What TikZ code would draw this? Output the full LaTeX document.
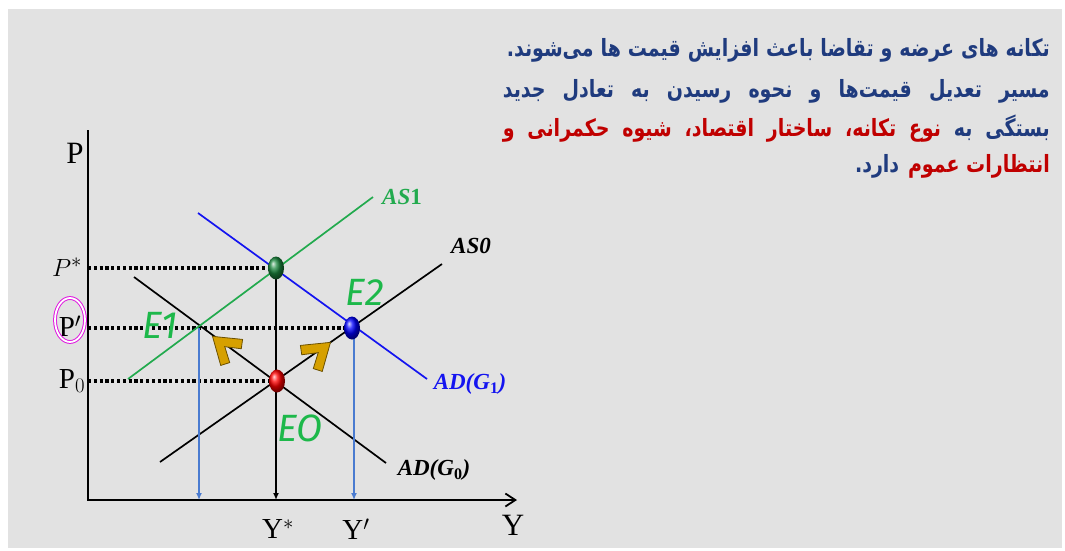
\documentclass[tikz,border=0pt]{standalone}
\usepackage{fontspec}
\setmainfont{Liberation Serif}
\newfontfamily\arabicfont[Script=Arabic]{DejaVu Sans}
\newfontfamily\mainE{Fira Sans}
\TeXXeTstate=1
\usetikzlibrary{arrows.meta}
\usetikzlibrary{shapes.geometric}
\definecolor{palette_gris}{HTML}{E2E2E2}
\definecolor{palette_bleuf}{HTML}{1F3B7E}
\definecolor{palette_rouge}{HTML}{C00000}
\definecolor{palette_vert}{HTML}{22AA4E}
\definecolor{palette_vertE}{HTML}{1DB84A}
\definecolor{palette_bleu}{HTML}{1414F0}
\definecolor{palette_bleuc}{HTML}{4A7BD0}
\definecolor{palette_or}{HTML}{D6A000}
\definecolor{palette_rose}{HTML}{E01CE0}

\tikzset{
  pointille/.style={line width=3.2pt, dash pattern=on 3.2pt off 2.6pt},
  courbe/.style={line width=1.7pt},
  equilibre/.style={ellipse, minimum width=16pt, minimum height=23pt, inner sep=0pt},
  etiquette/.style={font=\fontsize{23}{23}\selectfont\bfseries\itshape, inner sep=0pt},
  lettreE/.style={font=\mainE\itshape\fontsize{38}{38}\selectfont, text=palette_vertE, inner sep=0pt},
  axe/.style={font=\fontsize{31}{31}\selectfont, inner sep=0pt},
  prix/.style={font=\fontsize{29}{29}\selectfont, inner sep=0pt},
  persan/.style={font=\arabicfont\bfseries\fontsize{19}{19}\selectfont, inner sep=0pt, anchor=east},
  chevron/.pic={
    \filldraw[fill=palette_or, draw=palette_or!50!black, line width=0.8pt]
      (15,0) -- (-10,17) -- (-15,9) -- (-1,0) -- (-15,-9) -- (-10,-17) -- cycle;
  }
}

\begin{document}
\begin{tikzpicture}[x=1pt,y=-1pt]
    \useasboundingbox (0,0) rectangle (1065,550);
    \fill[palette_gris] (8,9) rectangle (1062,548);

    % texte
    \node[persan, text=palette_bleuf] (ligne1) at (1050,50)
      {\scalebox{1}[1.25]{\makebox[543pt][s]{\beginR تکانه های عرضه و تقاضا باعث افزایش قیمت ها می‌شوند.\endR}}};
    \node[persan, text=palette_bleuf] (ligne2) at (1050,91)
      {\scalebox{1}[1.25]{\makebox[547pt][s]{\beginR مسیر تعدیل قیمت‌ها و نحوه رسیدن به تعادل جدید\endR}}};
    \node[persan] (ligne3) at (1050,129)
      {\scalebox{1}[1.25]{\makebox[547pt][s]{{\color{palette_rouge}\beginR نوع تکانه، ساختار اقتصاد، شیوه حکمرانی و\endR} {\color{palette_bleuf}\beginR بستگی به\endR}}}};
    \node[persan] (ligne4) at (1050,166)
      {\scalebox{1}[1.25]{{\color{palette_bleuf}\beginR دارد.\endR} {\color{palette_rouge}\beginR انتظارات عموم\endR}}};

    % points
    \coordinate (origine) at (88,500);
    \coordinate (hautP) at (88,130);
    \coordinate (boutY) at (517,500);
    \coordinate (Eetoile) at (276,268);
    \coordinate (E0) at (277,381);
    \coordinate (E1) at (199,328);
    \coordinate (E2) at (352,328);
    \coordinate (as0a) at (160,462);
    \coordinate (as0b) at (442,264);
    \coordinate (ad0a) at (134,277);
    \coordinate (ad0b) at (386,463);
    \coordinate (as1a) at (128,379);
    \coordinate (as1b) at (373,197);
    \coordinate (ad1a) at (198,213);
    \coordinate (ad1b) at (427,379);

    % axes
    \draw[line width=1.8pt, -{Straight Barb[length=10pt,width=13pt]}] (hautP) -- (origine) -- (boutY);

    % pointilles
    \draw[pointille] (origine |- Eetoile) -- (Eetoile);
    \draw[pointille] (origine |- E2) -- (E2);
    \draw[pointille] (origine |- E0) -- (E0);

    % courbes
    \draw[courbe] (as0a) -- (as0b);
    \draw[courbe] (ad0a) -- (ad0b);
    \draw[courbe, palette_vert] (as1a) -- (as1b);
    \draw[courbe, palette_bleu] (ad1a) -- (ad1b);

    % verticales
    \draw[line width=1.7pt, -{Latex[length=7pt,width=6pt]}] (Eetoile) -- (Eetoile |- origine);
    \draw[line width=1.3pt, palette_bleuc, -{Latex[length=7pt,width=6pt]}] (E1) -- (E1 |- origine);
    \draw[line width=1.3pt, palette_bleuc, -{Latex[length=7pt,width=6pt]}] ([xshift=2pt]E2) -- ([xshift=2pt]E2 |- origine);

    % equilibres
    \node[equilibre, ball color=palette_vert!80!black] (ptEetoile) at (Eetoile) {};
    \node[equilibre, ball color=red] (ptE0) at (E0) {};
    \node[equilibre, ball color=blue] (ptE2) at (E2) {};

    % fleches
    \pic[rotate=140] at (224,346) {chevron};
    \pic[rotate=40] at (319,352) {chevron};

    % etiquettes
    \node[axe] (labP) at (75,153) {P};
    \node[axe] (labY) at (513,525) {Y};
    \node[prix] (labPetoile) at (67,267) {$P^*$};
    \node[prix] (labPprime) at (70,326) {P$'$};
    \node[prix] (labP0) at (72,381) {P$_0$};
    \draw[palette_rose, line width=1pt, double=white, double distance=1.8pt] (70,320) ellipse [x radius=15, y radius=22];
    \node[prix] (labYetoile) at (278,529) {Y$^*$};
    \node[prix] (labYprime) at (356,529) {Y$'$};

    \node[etiquette, text=palette_vert] (labAS1) at (402,197) {AS\textup{1}};
    \node[etiquette] (labAS0) at (471,246) {AS0};
    \node[etiquette, text=palette_bleu] (labAD1) at (470,384) {AD(G\textsubscript{\textup{1}})};
    \node[etiquette] (labAD0) at (434,470) {AD(G\textsubscript{\textup{0}})};

    \node[lettreE] (labE1) at (160,325) {E1};
    \node[lettreE] (labE2) at (365,292) {E2};
    \node[lettreE] (labE0) at (300,428) {EO};
\end{tikzpicture}
\end{document}
